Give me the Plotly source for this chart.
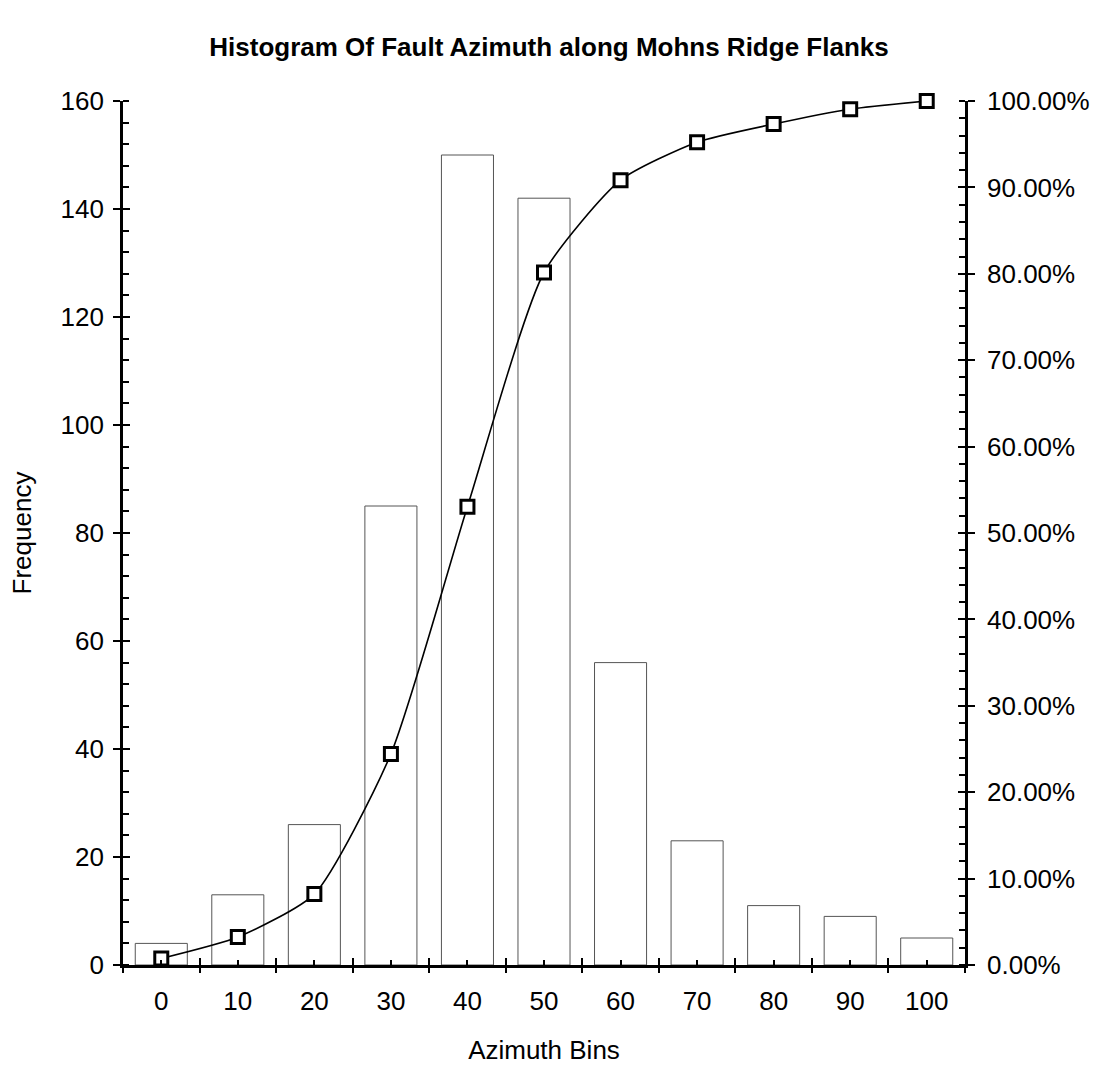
import plotly.graph_objects as go

# Azimuth bins (degrees) and fault counts per bin
bins = [0, 10, 20, 30, 40, 50, 60, 70, 80, 90, 100]
bin_labels = ["0", "10", "20", "30", "40", "50", "60", "70", "80", "90", "100"]
frequency = [4, 13, 26, 85, 150, 142, 56, 23, 11, 9, 5]
# cumulative share of faults (fraction of total)
cumulative = [0.0076, 0.0324, 0.0821, 0.2443, 0.5305, 0.8015, 0.9084, 0.9523, 0.9733, 0.9905, 1.0]

freq_ticks = [0, 20, 40, 60, 80, 100, 120, 140, 160]
pct_ticks = [0.0, 0.1, 0.2, 0.3, 0.4, 0.5, 0.6, 0.7, 0.8, 0.9, 1.0]
bin_edges = [-5, 5, 15, 25, 35, 45, 55, 65, 75, 85, 95, 105]

FONT = "Liberation Sans, Arial, sans-serif"
X_RANGE = [-5, 105]

fig = go.Figure()

fig.add_trace(go.Bar(
    x=bins, y=frequency, name="Frequency",
    marker=dict(color="white", line=dict(color="#555555", width=1)),
    xaxis="x", yaxis="y", showlegend=False,
))

fig.add_trace(go.Scatter(
    x=bins, y=cumulative, name="Cumulative %",
    mode="lines+markers", cliponaxis=False,
    line=dict(color="black", width=1.6, shape="spline", smoothing=0.6),
    marker=dict(symbol="square", size=13, color="white",
                line=dict(color="black", width=3)),
    xaxis="x", yaxis="y2", showlegend=False,
))

# empty traces so the tick-only overlay axes are drawn
for xa, ya in [("x2", "y"), ("x3", "y"), ("x", "y3"), ("x", "y4")]:
    fig.add_trace(go.Scatter(x=[], y=[], xaxis=xa, yaxis=ya,
                             showlegend=False, hoverinfo="skip"))

tick_common = dict(tickcolor="black", tickwidth=2.2, showgrid=False,
                   zeroline=False, automargin=False)

fig.update_layout(
    width=1098, height=1067,
    margin=dict(l=123, r=133, t=101, b=102),
    paper_bgcolor="white", plot_bgcolor="white",
    font=dict(family=FONT, size=26, color="black"),
    bargap=0.32,
    title=dict(
        text="<b>Histogram Of Fault Azimuth along Mohns Ridge Flanks</b>",
        x=0.5, xanchor="center", y=1 - 47 / 1067, yanchor="middle",
        font=dict(family=FONT, size=26, color="black"),
        automargin=False,
    ),
    xaxis=dict(
        range=X_RANGE, tickmode="array", tickvals=bins, ticktext=bin_labels,
        ticks="inside", ticklen=5, showline=True, linecolor="black", linewidth=2.6,
        ticklabelstandoff=11, anchor="y",
        title=dict(text="Azimuth Bins", font=dict(size=26), standoff=26),
        **tick_common,
    ),
    xaxis2=dict(
        range=X_RANGE, overlaying="x", anchor="y", tickmode="array", tickvals=bin_edges,
        ticks="outside", ticklen=7, showticklabels=False, showline=False, **tick_common,
    ),
    xaxis3=dict(
        range=X_RANGE, overlaying="x", anchor="y", tickmode="array", tickvals=bin_edges,
        ticks="inside", ticklen=7, showticklabels=False, showline=False, **tick_common,
    ),
    yaxis=dict(
        range=[0, 160], tickmode="array", tickvals=freq_ticks,
        ticks="outside", ticklen=7, showline=True, linecolor="black", linewidth=2.6,
        minor=dict(ticks="inside", dtick=4, ticklen=6, tickcolor="black", tickwidth=2),
        anchor="x", side="left", ticklabelstandoff=4,
        title=dict(text="Frequency", font=dict(size=26), standoff=22),
        **tick_common,
    ),
    yaxis3=dict(
        range=[0, 160], overlaying="y", side="left", anchor="x", tickmode="array",
        tickvals=freq_ticks, ticks="inside", ticklen=7, showticklabels=False,
        showline=False, **tick_common,
    ),
    yaxis2=dict(
        range=[0, 1], overlaying="y", side="right", anchor="x", tickmode="array",
        tickvals=pct_ticks, tickformat=".2%", ticks="outside", ticklen=7,
        showline=True, linecolor="black", linewidth=2.6,
        minor=dict(ticks="inside", dtick=0.02, ticklen=6, tickcolor="black", tickwidth=2),
        ticklabelstandoff=7,
        **tick_common,
    ),
    yaxis4=dict(
        range=[0, 1], overlaying="y", side="right", anchor="x", tickmode="array",
        tickvals=pct_ticks, ticks="inside", ticklen=7, showticklabels=False,
        showline=False, **tick_common,
    ),
)

fig.write_html("out.html")
